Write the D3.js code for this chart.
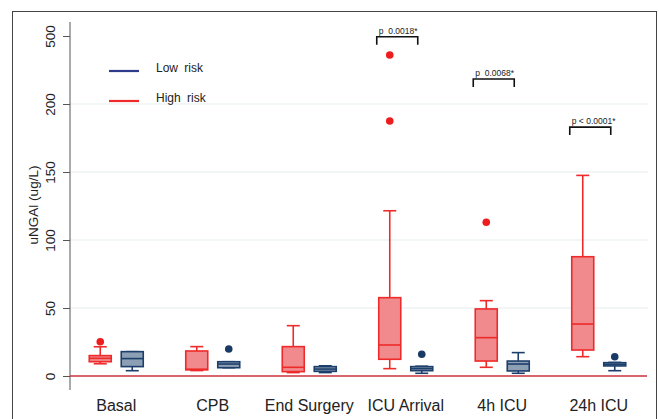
<!DOCTYPE html>
<html>
<head>
<meta charset="utf-8">
<script src="https://cdn.jsdelivr.net/npm/d3@7"></script>
<style>
  body { margin: 0; background: #fff; }
  svg { font-family: "Liberation Sans", Arial, sans-serif; }
</style>
</head>
<body>
<div id="chart"></div>
<script>
// Define the data
const categories = ["Basal", "CPB", "End Surgery", "ICU Arrival", "4h ICU", "24h ICU"];
const groups = ["Low risk", "High risk"];

// box stats per category: [lowWhisker, q1, median, q3, highWhisker]
const highRisk = [
  [9, 10.5, 13, 15, 21.5],
  [4, 4.5, 5, 18.4, 21.6],
  [2.5, 3.2, 6.4, 21.6, 37],
  [5.4, 12.3, 22.8, 57.6, 121.5],
  [6.4, 11, 28.2, 49.3, 55.4],
  [14.2, 19.1, 38.2, 87.7, 147.5]
];
const lowRisk = [
  [3.9, 6.9, 12.8, 17.9, 17.9],
  [6.1, 6.1, 8.8, 10.5, 10.5],
  [2.5, 3.4, 5.1, 6.9, 7.5],
  [2, 3.9, 5.4, 6.9, 7.2],
  [2, 3.7, 8.8, 11, 17.2],
  [3.9, 7.4, 8.6, 9.8, 10]
];
const highOutliers = [[25.2], [], [], [416, 187.5], [113], []];
const lowOutliers = [[], [19.9], [], [16], [], [14.2]];

// significance brackets: category, level on y scale, label
const pLabels = [
  { cat: "ICU Arrival", level: 497, text: "p  0.0018*" },
  { cat: "4h ICU", level: 310, text: "p  0.0068*" },
  { cat: "24h ICU", level: 183, text: "p < 0.0001*" }
];
const yTicks = [0, 50, 100, 150, 200, 500];

const svgWidth = 659;
const svgHeight = 419;

const svg = d3.select("#chart")
  .append("svg")
  .attr("width", svgWidth)
  .attr("height", svgHeight);

// outer frame
svg.append("rect")
  .attr("x", 12.5).attr("y", 11.5)
  .attr("width", 644).attr("height", 420)
  .attr("fill", "none")
  .attr("stroke", "#444")
  .attr("stroke-width", 1);

// broken y scale: 0-200 linear, 200-500 compressed
const yScale = d3.scaleLinear()
  .domain([0, 200, 500])
  .range([376, 104, 36]);

const xScale = d3.scaleBand()
  .domain(categories)
  .range([68, 647]);

const offset = 16;
const boxW = 22;

// gridlines
svg.append("g")
  .selectAll("line")
  .data(yTicks.filter(d => d > 0 && d < 500))
  .join("line")
  .attr("x1", 70).attr("x2", 648)
  .attr("y1", d => yScale(d)).attr("y2", d => yScale(d))
  .attr("stroke", "#e6eef0")
  .attr("stroke-width", 1.2);

// y axis
const yAxis = d3.axisLeft(yScale)
  .tickValues(yTicks)
  .tickSize(7)
  .tickFormat(d3.format("d"));

const yG = svg.append("g")
  .attr("transform", "translate(70,0)")
  .call(yAxis);
yG.select(".domain").remove();
yG.selectAll(".tick line").attr("stroke", "#555");
yG.selectAll(".tick text")
  .attr("transform", "rotate(-90)")
  .attr("x", 0)
  .attr("y", -15)
  .attr("dy", 0)
  .attr("text-anchor", "middle")
  .attr("font-size", 13.5)
  .attr("fill", "#222");
svg.append("line")
  .attr("x1", 70).attr("x2", 70)
  .attr("y1", 22).attr("y2", 390)
  .attr("stroke", "#555");

// axis title
svg.append("text")
  .attr("transform", "translate(38,205) rotate(-90)")
  .attr("text-anchor", "middle")
  .attr("font-size", 13.5)
  .attr("fill", "#222")
  .text("uNGAl (ug/L)");

// zero line
svg.append("line")
  .attr("x1", 70).attr("x2", 647)
  .attr("y1", yScale(0)).attr("y2", yScale(0))
  .attr("stroke", "#c8323c")
  .attr("stroke-width", 1.5);

// x labels
const xAxis = d3.axisBottom(xScale).tickSize(0);
const xG = svg.append("g")
  .attr("transform", "translate(0,390)")
  .call(xAxis);
xG.select(".domain").remove();
xG.selectAll(".tick text")
  .attr("dy", 0)
  .attr("y", 21)
  .attr("font-size", 16)
  .attr("fill", "#222");

// box plots
const styles = {
  high: { stroke: "#ee2a2a", fill: "#f08a8c", dot: "#ee1c1c", dx: -offset, stats: highRisk, out: highOutliers },
  low: { stroke: "#1d3f6c", fill: "#8d9fb4", dot: "#1a3a66", dx: offset, stats: lowRisk, out: lowOutliers }
};

Object.values(styles).forEach(s => {
  const g = svg.append("g");
  categories.forEach((c, i) => {
    const cx = xScale(c) + xScale.bandwidth() / 2 + s.dx;
    const [lo, q1, med, q3, hi] = s.stats[i];
    const capW = 6.5;
    // whiskers
    g.append("line").attr("x1", cx).attr("x2", cx)
      .attr("y1", yScale(hi)).attr("y2", yScale(q3))
      .attr("stroke", s.stroke).attr("stroke-width", 1.6);
    g.append("line").attr("x1", cx).attr("x2", cx)
      .attr("y1", yScale(q1)).attr("y2", yScale(lo))
      .attr("stroke", s.stroke).attr("stroke-width", 1.6);
    [lo, hi].forEach(v => {
      g.append("line").attr("x1", cx - capW).attr("x2", cx + capW)
        .attr("y1", yScale(v)).attr("y2", yScale(v))
        .attr("stroke", s.stroke).attr("stroke-width", 1.6);
    });
    // box
    g.append("rect")
      .attr("x", cx - boxW / 2)
      .attr("y", yScale(q3))
      .attr("width", boxW)
      .attr("height", Math.max(yScale(q1) - yScale(q3), 1))
      .attr("fill", s.fill)
      .attr("stroke", s.stroke)
      .attr("stroke-width", 1.6);
    g.append("line").attr("x1", cx - boxW / 2).attr("x2", cx + boxW / 2)
      .attr("y1", yScale(med)).attr("y2", yScale(med))
      .attr("stroke", s.stroke).attr("stroke-width", 1.6);
    // outliers
    s.out[i].forEach(v => {
      g.append("circle")
        .attr("cx", cx).attr("cy", yScale(v))
        .attr("r", 3.8)
        .attr("fill", s.dot);
    });
  });
});

// significance brackets
pLabels.forEach(p => {
  const c = xScale(p.cat) + xScale.bandwidth() / 2;
  const x1 = c - offset - 13;
  const x2 = c + offset - 4;
  const y = yScale(p.level);
  svg.append("path")
    .attr("d", `M${x1},${y + 8}V${y}H${x2}V${y + 8}`)
    .attr("fill", "none")
    .attr("stroke", "#111")
    .attr("stroke-width", 1.6);
  svg.append("text")
    .attr("x", x1 + 2)
    .attr("y", y - 3)
    .attr("font-size", 8.5)
    .attr("fill", "#222")
    .attr("xml:space", "preserve")
    .style("white-space", "pre")
    .text(p.text);
});

// legend
const legend = svg.append("g");
const legendColors = ["#2e3a8a", "#ee2a2a"];
groups.forEach((name, i) => {
  const y = 71 + i * 30;
  legend.append("line")
    .attr("x1", 109).attr("x2", 139)
    .attr("y1", y).attr("y2", y)
    .attr("stroke", legendColors[i])
    .attr("stroke-width", 2.2);
  legend.append("text")
    .attr("x", 156).attr("y", y + 1)
    .attr("font-size", 12)
    .attr("fill", "#222")
    .attr("word-spacing", 3)
    .text(name);
});
</script>
</body>
</html>
